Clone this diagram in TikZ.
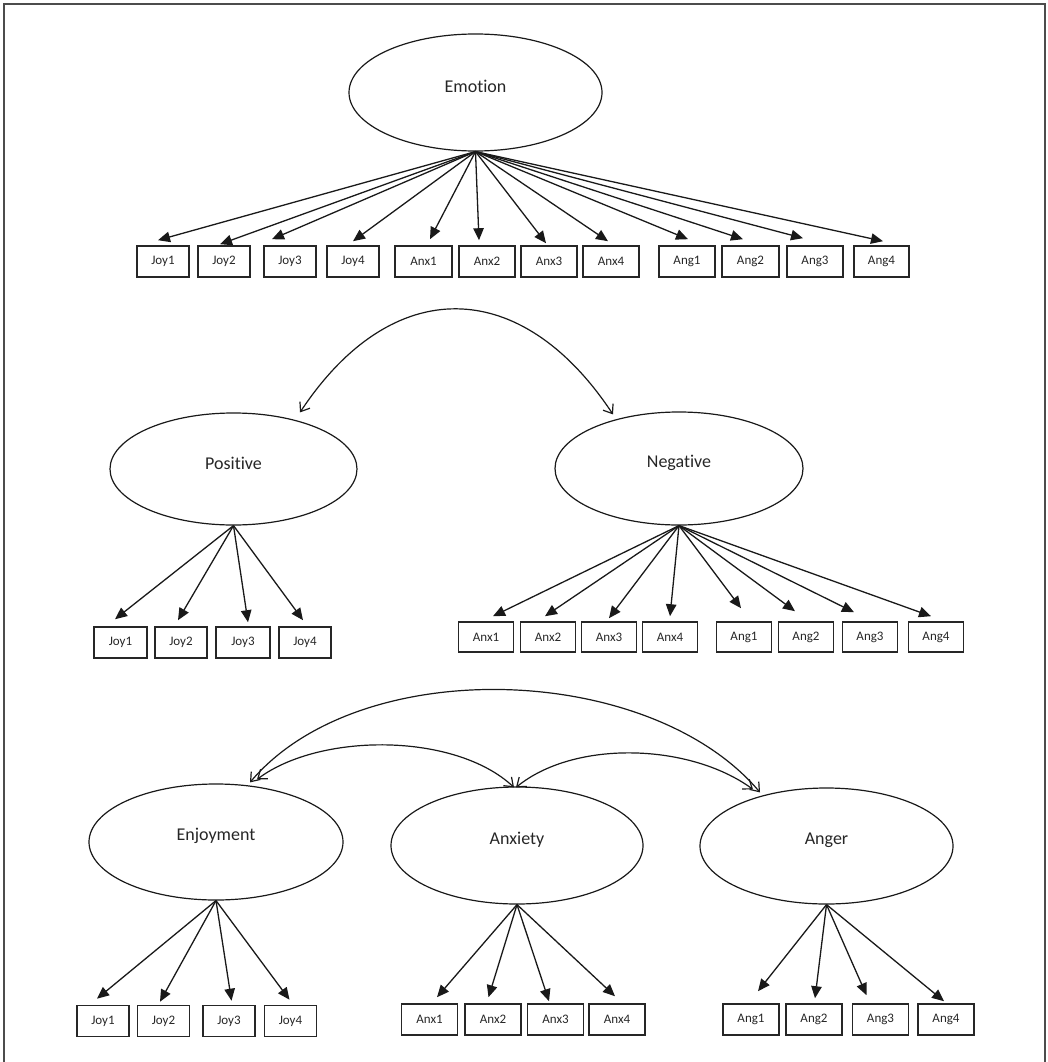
\documentclass[tikz,border=0pt]{standalone}
\usepackage{fontspec}
\setmainfont[Ligatures=NoCommon]{Carlito}
\usetikzlibrary{arrows.meta,shapes.geometric,calc}
\tikzset{
  lat/.style={ellipse, draw=black!90, line width=1.2pt, inner sep=0pt},
  ltext/.style={font=\fontsize{18}{20}\selectfont, text=black!85},
  obs/.style={rectangle, draw=black!85, line width=1.6pt, minimum height=31pt, inner sep=0pt, font=\fontsize{13}{15}\selectfont, text=black!85},
  load/.style={line width=1.3pt, draw=black!90, -{Triangle[length=12pt,width=10.5pt]}},
  cov/.style={line width=1.2pt, draw=black!90, {Straight Barb[length=8pt,width=12pt]}-{Straight Barb[length=8pt,width=12pt]}},
  frame/.style={draw=black!70, line width=1.5pt}
}
\begin{document}
\begin{tikzpicture}[x=1pt,y=-1pt]
\useasboundingbox (0,0) rectangle (1048,1062);
\coordinate (fbl) at (4,1062);
\coordinate (ftl) at (4,4);
\coordinate (ftr) at (1045,4);
\coordinate (fbr) at (1045,1062);
\draw[frame] (fbl) -- (ftl) -- (ftr) -- (fbr);

% ---------- Section 1 ----------
\node[lat, minimum width=253pt, minimum height=117pt, label={[ltext,yshift=6pt]center:Emotion}] (E) at (475.5,92.5) {};
\foreach \n/\x/\w/\t in {a1/163/52/Joy1, a2/224/52/Joy2, a3/290/52/Joy3, a4/353/52/Joy4,
  a5/423.5/57/Anx1, a6/487/56/Anx2, a7/549/56/Anx3, a8/611/56/Anx4,
  a9/687/56/Ang1, a10/750.5/57/Ang2, a11/815/56/Ang3, a12/881.5/55/Ang4}
  \node[obs, minimum width=\w pt] (\n) at (\x,261.5) {\t};
\foreach \n/\dx/\dy in {a1/-5/-5, a2/-4/-1, a3/-18/-6, a4/0/-4, a5/6.5/-6, a6/-8/-5,
  a7/-3/-2, a8/-3/-4, a9/1/-6, a10/-7.5/-6, a11/-12/-7, a12/1.5/-4}
  \draw[load] (E.south) -- ($(\n.north)+(\dx,\dy)$);

% ---------- Section 2 ----------
\node[lat, minimum width=247pt, minimum height=112pt, label={[ltext,yshift=6pt]center:Positive}] (P) at (233.5,469) {};
\node[lat, minimum width=248pt, minimum height=113pt, label={[ltext,yshift=6pt]center:Negative}] (N) at (679,468.5) {};
\draw[cov] ($(P.north)+(66.5,0)$) .. controls +(92,-139) and +(-92,-139) .. ($(N.north)+(-66,3)$);

\foreach \n/\x/\w/\t in {b1/120.5/53/Joy1, b2/181/52/Joy2, b3/243/54/Joy3, b4/305/52/Joy4}
  \node[obs, minimum width=\w pt] (\n) at (\x,642.5) {\t};
\foreach \n/\x/\t in {c1/486/Anx1, c2/548/Anx2, c3/609/Anx3, c4/670/Anx4,
  c5/744/Ang1, c6/806/Ang2, c7/870/Ang3, c8/936/Ang4}
  \node[obs, minimum width=55pt, minimum height=30pt] (\n) at (\x,637) {\t};
\foreach \n/\dx/\dy in {b1/-5.5/-7, b2/-3/-6, b3/5/-4, b4/-2/-6}
  \draw[load] (P.south) -- ($(\n.north)+(\dx,\dy)$);
\foreach \n/\dx/\dy in {c1/7/-5, c2/-3/-5, c3/0/-3, c4/0/-5, c5/-3/-13, c6/-11/-10, c7/-16/-9, c8/-5/-5}
  \draw[load] (N.south) -- ($(\n.north)+(\dx,\dy)$);

% ---------- Section 3 ----------
\node[lat, minimum width=254pt, minimum height=116pt, label={[ltext,yshift=6pt]center:Enjoyment}] (En) at (216,842) {};
\node[lat, minimum width=252pt, minimum height=117pt, label={[ltext,yshift=6pt]center:Anxiety}] (Ax) at (517,845.5) {};
\node[lat, minimum width=253pt, minimum height=116pt, label={[ltext,yshift=6pt]center:Anger}] (Ag) at (826.5,846) {};

\draw[cov] ($(En.north)+(34,-1)$) .. controls +(110,-130) and +(-110,-130) .. ($(Ag.north)+(-66.5,5)$);
\draw[cov] ($(En.north)+(41,-4)$) .. controls +(63,-47) and +(-59,-55) .. ($(Ax.north)+(-3,1)$);
\draw[cov] ($(Ax.north)+(-1,1)$) .. controls +(59,-48) and +(-63,-46) .. ($(Ag.north)+(-73.5,2)$);

\foreach \n/\x/\t in {d1/103/Joy1, d2/163.5/Joy2, d3/229/Joy3, d4/290.5/Joy4}
  \node[obs, minimum width=52pt] (\n) at (\x,1021) {\t};
\foreach \n/\x/\t in {e1/429.5/Anx1, e2/493/Anx2, e3/555.5/Anx3, e4/617/Anx4}
  \node[obs, minimum width=56pt] (\n) at (\x,1019.5) {\t};
\foreach \n/\x/\t in {f1/751/Ang1, f2/814/Ang2, f3/880.5/Ang3, f4/946/Ang4}
  \node[obs, minimum width=56pt] (\n) at (\x,1019.5) {\t};
\foreach \n/\dx/\dy in {d1/-6/-6, d2/-3.5/-3, d3/2.5/-4, d4/-1/-5}
  \draw[load] (En.south) -- ($(\n.north)+(\dx,\dy)$);
\foreach \n/\dx/\dy in {e1/7.5/-6, e2/-4.5/-6, e3/-6.5/-2, e4/-2/-7}
  \draw[load] (Ax.south) -- ($(\n.north)+(\dx,\dy)$);
\foreach \n/\dx/\dy in {f1/7/-12, f2/1/-5, f3/-14/-8, f4/-2/-2}
  \draw[load] (Ag.south) -- ($(\n.north)+(\dx,\dy)$);
\end{tikzpicture}
\end{document}
